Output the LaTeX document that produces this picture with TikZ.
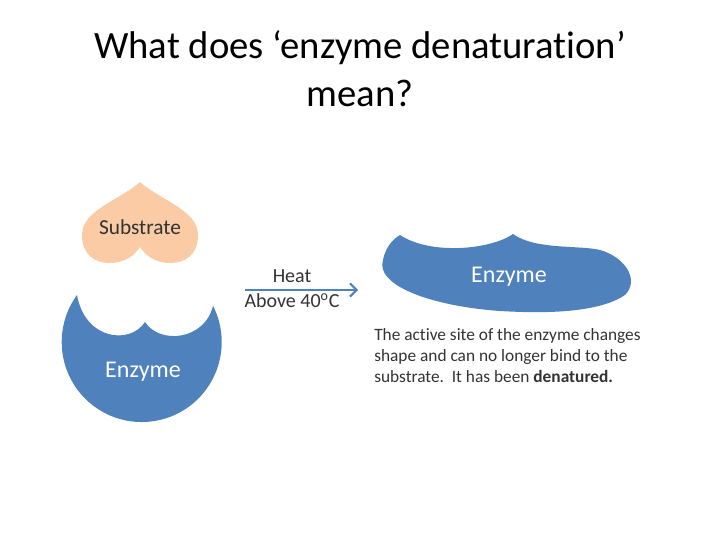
\documentclass[tikz,border=0pt]{standalone}
\usepackage{fontspec}
\usetikzlibrary{arrows.meta}
\setmainfont[Ligatures=NoCommon]{Carlito}
\definecolor{eblue}{HTML}{4F81BD}
\definecolor{peach}{HTML}{FBCBA6}
\begin{document}
\begin{tikzpicture}[x=0.75pt,y=0.75pt,
  lbl/.style={inner sep=0pt, font=\fontsize{15}{18}\selectfont},
  elbl/.style={text=white, inner sep=0pt, font=\fontsize{18}{21}\selectfont}]
\useasboundingbox (0,0) rectangle (720,540);
\node[font=\fontsize{29}{36}\selectfont, align=center, inner sep=0pt] (title) at (360,471) {What does ‘enzyme denaturation’\\mean?};
% substrate
\fill[peach] (140,358) .. controls (120,340) and (82,330) .. (82,305) .. controls (82,285) and (95,277) .. (110,277) .. controls (125,277) and (135,285) .. (140,293) .. controls (145,285) and (155,277) .. (170,277) .. controls (185,277) and (198,285) .. (198,305) .. controls (198,330) and (160,340) .. (140,358) -- cycle;
\node[inner sep=0pt, font=\fontsize{16}{19}\selectfont, text=black!80] (sub) at (140,313) {Substrate};
% enzyme 1
\fill[eblue] (77,245) arc[start angle=144, end angle=387, radius=80] .. controls (205,200) and (160,195) .. (145,218) .. controls (130,195) and (85,200) .. (77,245) -- cycle;
\node[elbl] (e1) at (143,168) {Enzyme};
% arrow
\coordinate (a1) at (245,250);
\coordinate (a2) at (358,250);
\draw[eblue, line width=1.5pt, -{Straight Barb[length=5pt]}] (a1) -- (a2);
\node[lbl, text=black!80] (heat) at (292,264) {Heat};
\node[lbl, text=black!80] (above) at (292,239) {Above 40\textsuperscript{o}C};
% enzyme 2
\fill[eblue] (400,305) .. controls (430,285) and (490,290) .. (513,306) .. controls (535,290) and (580,295) .. (600,290) .. controls (625,283) and (640,260) .. (625,245) .. controls (600,228) and (550,226) .. (500,229) .. controls (430,234) and (375,255) .. (383,280) .. controls (386,295) and (395,302) .. (400,305) -- cycle;
\node[elbl] (e2) at (509,263) {Enzyme};
\node[anchor=north west, align=left, inner sep=0pt, text=black!80, font=\fontsize{13}{15.75}\selectfont] (desc) at (374,212) {The active site of the enzyme changes\\shape and can no longer bind to the\\substrate.\ \ It has been \textbf{denatured.}};
\end{tikzpicture}
\end{document}
